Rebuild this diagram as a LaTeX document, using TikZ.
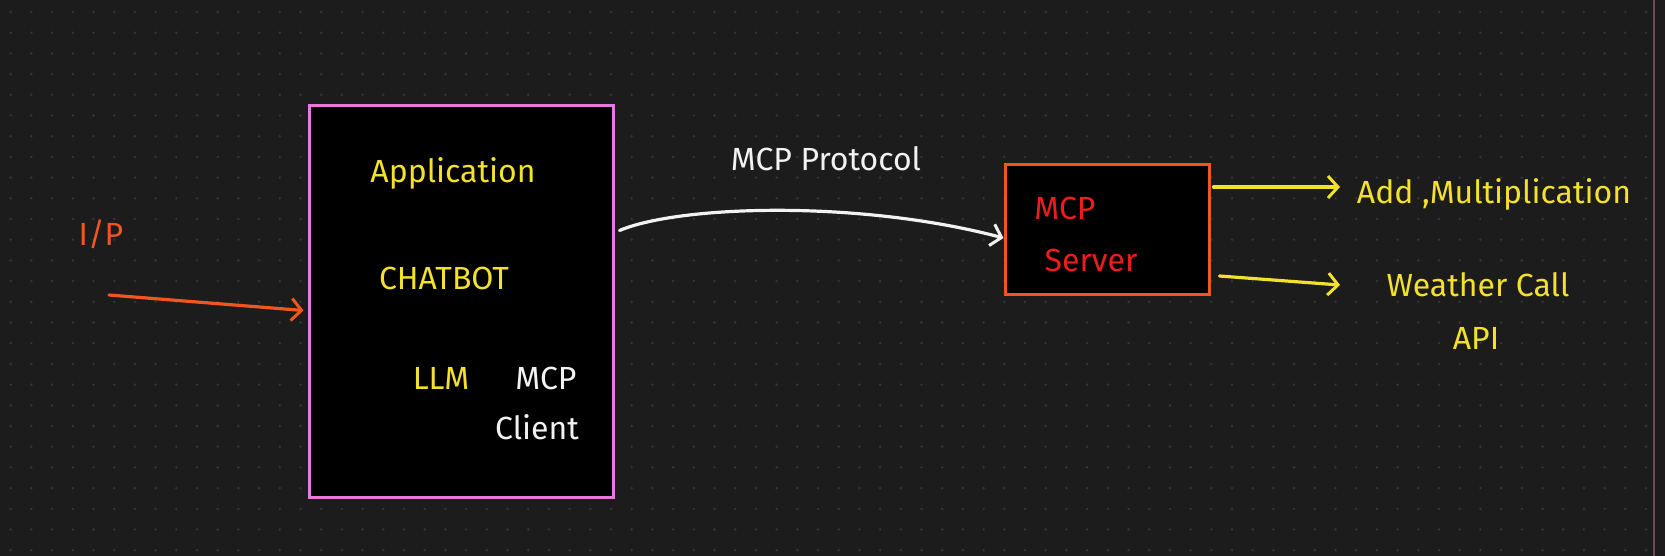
\documentclass[tikz,border=0pt]{standalone}
\usepackage{fontspec}
\setmainfont{Fira Sans}
\usepackage{tikz}
\usetikzlibrary{arrows.meta, positioning}
\definecolor{bgdark}{HTML}{1C1C1C}
\definecolor{dotgray}{HTML}{363636}
\definecolor{penyellow}{HTML}{F3E12C}
\definecolor{penpink}{HTML}{E57CDD}
\definecolor{penorange}{HTML}{F0561D}
\definecolor{penred}{HTML}{EE1C1C}
\definecolor{penwhite}{HTML}{F2F2F2}
\definecolor{edgeline}{HTML}{6B4B57}
\tikzset{hand/.style={font=\fontsize{32}{34}\selectfont, inner sep=0pt},
	tip/.style={-{Straight Barb[length=10pt,width=22pt,line width=3pt]}, line width=3.2pt, line cap=round}}

\begin{document}
\begin{tikzpicture}[x=1pt,y=-1pt]
			\useasboundingbox (0,0) rectangle (1665,556);
			\fill[bgdark] (0,0) rectangle (1665,556);
			% dot grid
			\foreach \i in {0,...,79} {
				\foreach \j in {0,...,26} {
					\fill[dotgray] (10.7+20.7*\i,12+20.7*\j) circle (1.3);
				}
			}
			\draw[edgeline, line width=1.5pt] (1654,0) -- (1654,556);
			% application box
			\node[draw=penpink, fill=black, line width=3pt, minimum width=304pt, minimum height=391pt] (appbox) at (461,301.5) {};
			\node[hand, penyellow] (apptxt) at (453,173) {Application};
			\node[hand, penyellow] (chattxt) at (444,278) {CHATBOT};
			\node[hand, penyellow] (llmtxt) at (441,378) {LLM};
			\node[hand, penwhite] (mcpctxt) at (546,378) {MCP};
			\node[hand, penwhite] (clienttxt) at (537,427) {Client};
			% input
			\node[hand, penorange] (iptxt) at (101,234) {I/P};
			\coordinate (ipstart) at (109,295);
			\draw[tip, penorange] (ipstart) -- ([xshift=-4pt,yshift=-9pt]appbox.west);
			% server box
			\node[draw=penorange, fill=black, line width=3pt, minimum width=204pt, minimum height=129pt] (srvbox) at (1107,229.5) {};
			\node[hand, penred] (mcpstxt) at (1065,208) {MCP};
			\node[hand, penred] (srvtxt) at (1091,260) {Server};
			% protocol link
			\node[hand, penwhite] (prototxt) at (826,159) {MCP Protocol};
			\draw[tip, penwhite] ([xshift=5pt,yshift=71pt]appbox.east) .. controls (680,205) and (860,200) .. ([yshift=-8.5pt]srvbox.west);
			% tools
			\node[hand, penyellow] (addtxt) at (1494,194) {Add ,Multiplication};
			\node[hand, penyellow] (weathertxt) at (1478,285) {Weather Call};
			\node[hand, penyellow] (apitxt) at (1476,338) {API};
			\coordinate (addtip) at (1340,187);
			\coordinate (weathertip) at (1340,285);
			\draw[tip, penyellow] ([xshift=3pt,yshift=42.5pt]srvbox.east) -- (addtip);
			\draw[tip, penyellow] ([xshift=9pt,yshift=-46.5pt]srvbox.east) -- (weathertip);
		\end{tikzpicture}
\end{document}
